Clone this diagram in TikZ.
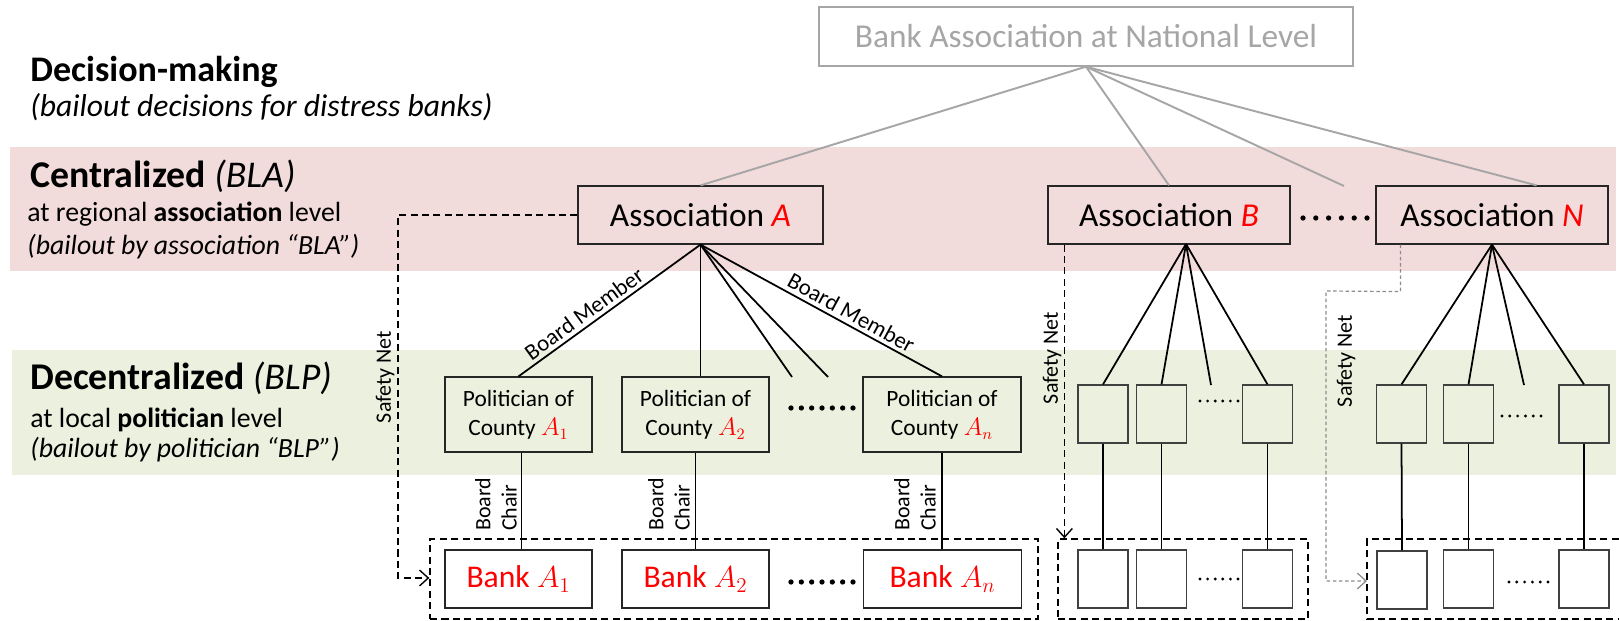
\documentclass[tikz,border=0pt]{standalone}
\usepackage{fontspec}
\setmainfont{Carlito}
\usetikzlibrary{arrows.meta}
\definecolor{bandpink}{RGB}{242,220,219}
\definecolor{bandgreen}{RGB}{235,241,222}
\definecolor{natgray}{RGB}{166,166,166}
\begin{document}
\begin{tikzpicture}[x=0.02cm,y=-0.02cm,
  assoc/.style={draw=black!85, line width=0.7pt, fill=bandpink, minimum height=1.16cm, inner sep=0pt, font=\fontsize{19}{22}\selectfont},
  polbox/.style={draw=black!85, line width=0.7pt, fill=bandgreen, minimum height=1.5cm, inner sep=0pt, align=center, font=\fontsize{13.3}{16.5}\selectfont},
  bankbox/.style={draw=black!85, line width=0.7pt, fill=white, minimum height=1.16cm, inner sep=0pt, text=red, font=\fontsize{18}{21}\selectfont},
  spol/.style={draw=black!75, line width=0.7pt, fill=bandgreen, minimum width=1cm, minimum height=1.16cm, inner sep=0pt},
  sbank/.style={draw=black!75, line width=0.7pt, fill=white, minimum width=1cm, minimum height=1.16cm, inner sep=0pt},
  link/.style={line width=1pt},
  glink/.style={draw=natgray, line width=1.1pt},
  safety/.style={dash pattern=on 4pt off 2.5pt, line width=0.8pt, -{Straight Barb[length=5pt,width=9pt]}},
  gsafety/.style={draw=black!45, dash pattern=on 2pt off 1.5pt, line width=0.7pt, -{Straight Barb[length=5pt,width=9pt]}},
  grp/.style={dash pattern=on 4pt off 2.5pt, line width=0.8pt},
  lbl/.style={font=\fontsize{13}{15}\selectfont, inner sep=2pt},
  chairlbl/.style={rotate=90, anchor=south west, align=left, inner sep=1pt, font=\fontsize{12.5}{15}\selectfont},
  netlbl/.style={rotate=90, inner sep=1pt, font=\fontsize{12.5}{14}\selectfont},
  headtxt/.style={anchor=base west, inner sep=0pt},
]
\useasboundingbox (0,0) rectangle (1619,621);
% bands
\fill[bandpink] (10,147) rectangle (1616,271);
\fill[bandgreen] (12,350) rectangle (1616,475);

% left texts
\node[headtxt, font=\bfseries\fontsize{20.5}{24}\selectfont] (t1) at (30,82) {Decision-making};
\node[headtxt, font=\itshape\fontsize{18}{21}\selectfont] (t2) at (30,117) {(bailout decisions for distress banks)};
\node[headtxt, font=\fontsize{21.5}{25}\selectfont] (c1) at (30,188) {\textbf{Centralized} \textit{(BLA)}};
\node[headtxt, font=\fontsize{15.8}{18}\selectfont] (c2) at (27,222) {at regional \textbf{association} level};
\node[headtxt, font=\itshape\fontsize{15.8}{18}\selectfont] (c3) at (27,255) {(bailout by association “BLA”)};
\node[headtxt, font=\fontsize{21.5}{25}\selectfont] (d1) at (30,390) {\textbf{Decentralized} \textit{(BLP)}};
\node[headtxt, font=\fontsize{15.8}{18}\selectfont] (d2) at (30,427) {at local \textbf{politician} level};
\node[headtxt, font=\itshape\fontsize{15.8}{18}\selectfont] (d3) at (30,457) {(bailout by politician “BLP”)};

% national
\node[draw=natgray, line width=0.8pt, minimum width=10.68cm, minimum height=1.18cm, inner sep=0pt, text=natgray, font=\fontsize{19}{22}\selectfont] (nat) at (1086,36.5) {Bank Association at National Level};

% associations
\node[assoc, minimum width=4.9cm] (aA) at (700.5,215) {Association \textcolor{red}{\textit{A}}};
\node[assoc, minimum width=4.84cm] (aB) at (1169,215) {Association \textcolor{red}{\textit{B}}};
\node[assoc, minimum width=4.64cm] (aN) at (1492,215) {Association \textcolor{red}{\textit{N}}};
\coordinate (gapend) at (1344,186);
\draw[glink] (nat.south) -- (aA.north);
\draw[glink] (nat.south) -- (aB.north);
\draw[glink] (nat.south) -- (gapend);
\draw[glink] (nat.south) -- ([xshift=-1.44cm]aN.north east);
\foreach \i in {0,...,5} \fill (1303+\i*12.8,218) circle (1.5pt);

% politicians A
\node[polbox, minimum width=2.94cm] (pA1) at (518.5,414.5) {Politician of\\County \textcolor{red}{$A_1$}};
\node[polbox, minimum width=2.94cm] (pA2) at (695.5,414.5) {Politician of\\County \textcolor{red}{$A_2$}};
\node[polbox, minimum width=3.16cm] (pAn) at (942,414.5) {Politician of\\County \textcolor{red}{$A_n$}};
\foreach \i in {0,...,6} \fill (791+\i*10.33,408) circle (1.5pt);

% banks A
\node[bankbox, minimum width=2.94cm] (bA1) at (518.5,579) {Bank $A_1$};
\node[bankbox, minimum width=2.94cm] (bA2) at (695.5,579) {Bank $A_2$};
\node[bankbox, minimum width=3.16cm] (bAn) at (942.5,579) {Bank $A_n$};
\foreach \i in {0,...,6} \fill (791+\i*10.33,582) circle (1.5pt);
\node[grp, draw, minimum width=12.16cm, minimum height=1.6cm, inner sep=0pt] (gA) at (734,579) {};

% links A
\coordinate (looseA1) at (792,377);
\coordinate (looseA2) at (828,377);
\draw[link] (aA.south) -- node[lbl, sloped, above, pos=0.6] {Board Member} (pA1.north);
\draw[link] (aA.south) -- (aA.south |- pA2.north);
\draw[link] (aA.south) -- (looseA1);
\draw[link] (aA.south) -- (looseA2);
\draw[link] (aA.south) -- node[lbl, sloped, above, pos=0.6] {Board Member} (pAn.north);
\draw[link] ([xshift=0.06cm]pA1.south) -- ([xshift=0.06cm]bA1.north);
\draw[link] (pA2.south) -- (bA2.north);
\draw[link] (pAn.south) -- (pAn.south |- bAn.north);
\node[chairlbl] (bc1) at (519,533) {Board\\Chair};
\node[chairlbl] (bc2) at (692,533) {Board\\Chair};
\node[chairlbl] (bc3) at (938,533) {Board\\Chair};

% safety net A
\draw[safety] (aA.west) -- (398,215) -- (398,578) -- (gA.west |- 0,578);
\node[netlbl] (snA) at (385,377) {Safety Net};

% subtree B
\node[spol] (pB1) at (1103,414) {};
\node[spol] (pB2) at (1161.5,414) {};
\node[spol] (pB3) at (1267.5,414) {};
\node[sbank] (bB1) at (1103,579) {};
\node[sbank] (bB2) at (1161.5,579) {};
\node[sbank] (bB3) at (1267.5,579) {};
\foreach \i in {0,...,5} \fill (1200+\i*7.6,401) circle (0.9pt);
\foreach \i in {0,...,5} \fill (1200+\i*7.6,579) circle (0.9pt);
\coordinate (aBs) at (1186,244);
\coordinate (looseB) at (1211,385);
\draw[link] (aBs) -- (pB1.north);
\draw[link] (aBs) -- (pB2.north);
\draw[link] (aBs) -- (looseB);
\draw[link] (aBs) -- (pB3.north);
\draw[link] (pB1.south) -- (bB1.north);
\draw[link] (pB2.south) -- (bB2.north);
\draw[link] (pB3.south) -- (bB3.north);
\node[grp, draw, minimum width=5cm, minimum height=1.6cm, inner sep=0pt] (gB) at (1183,579) {};
\coordinate (sB) at ([xshift=0.34cm]aB.south west);
\draw[safety] (sB) -- (sB |- gB.north);
\node[netlbl] (snB) at (1052,358) {Safety Net};

% subtree N
\node[spol] (pN1) at (1401.5,414) {};
\node[spol] (pN2) at (1468.5,414) {};
\node[spol] (pN3) at (1584,414) {};
\node[sbank] (bN1) at (1402,580) {};
\node[sbank] (bN2) at (1468.5,579) {};
\node[sbank] (bN3) at (1584,579) {};
\foreach \i in {0,...,5} \fill (1502+\i*7.8,416) circle (0.9pt);
\foreach \i in {0,...,5} \fill (1509+\i*7.8,582) circle (0.9pt);
\coordinate (looseN) at (1524,385);
\draw[link] (aN.south) -- (pN1.north);
\draw[link] (aN.south) -- (pN2.north);
\draw[link] (aN.south) -- (looseN);
\draw[link] (aN.south) -- (pN3.north);
\draw[link] (pN1.south) -- (bN1.north);
\draw[link] (pN2.south) -- (bN2.north);
\draw[link] (pN3.south) -- (bN3.north);
\coordinate (gNw) at (1367,581);
\draw[grp] (1630,539) -- (1367,539) -- (1367,619) -- (1630,619);
\coordinate (sN) at ([xshift=0.5cm]aN.south west);
\draw[gsafety] (sN) -- ++(0,47) -- (1326,291) -- (1326,581) -- (gNw);
\node[netlbl] (snN) at (1346,361) {Safety Net};
\end{tikzpicture}
\end{document}
